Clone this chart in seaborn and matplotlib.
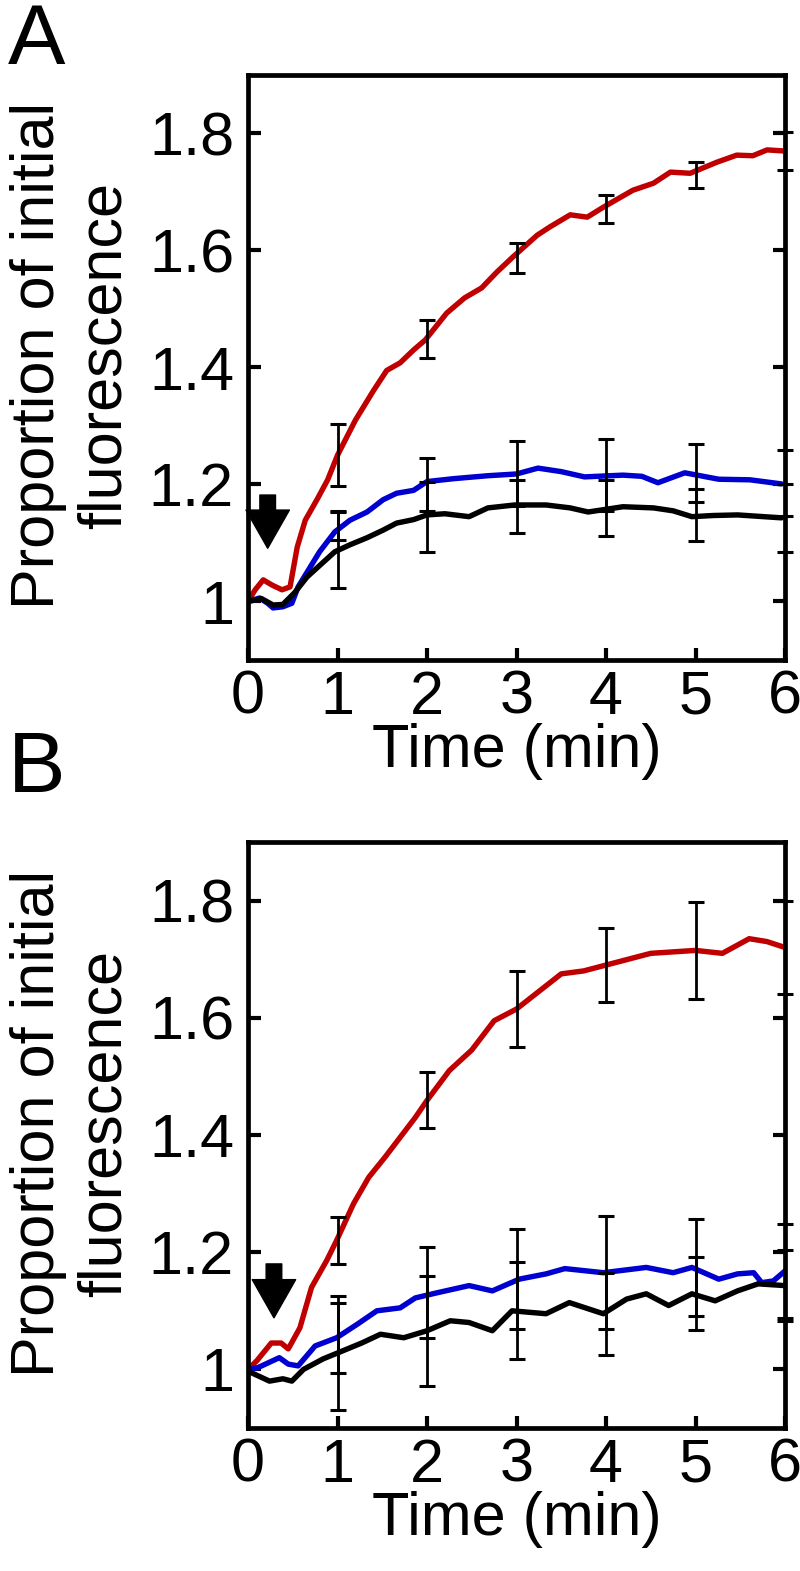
import matplotlib
matplotlib.use("Agg")
import matplotlib.pyplot as plt
import seaborn as sns

# ---------------- data ----------------
# Panel A traces
a_red_t = [0, 0.08, 0.17, 0.27, 0.38, 0.47, 0.55, 0.64, 0.77, 0.89, 1.0, 1.2, 1.4, 1.55, 1.7, 1.85,
           1.98, 2.22, 2.42, 2.61, 2.78, 2.96, 3.23, 3.37, 3.6, 3.79, 3.97, 4.3, 4.53, 4.72, 4.94,
           5.24, 5.46, 5.64, 5.8, 6.0]
a_red_v = [1.0, 1.02, 1.037, 1.028, 1.02, 1.025, 1.093, 1.139, 1.174, 1.208, 1.25, 1.31, 1.36, 1.395,
           1.408, 1.43, 1.447, 1.493, 1.519, 1.536, 1.563, 1.589, 1.626, 1.64, 1.661, 1.657, 1.674,
           1.703, 1.715, 1.734, 1.732, 1.751, 1.763, 1.762, 1.772, 1.77]
a_blue_t = [0, 0.13, 0.22, 0.28, 0.39, 0.49, 0.56, 0.66, 0.8, 0.97, 1.14, 1.33, 1.51, 1.66, 1.85, 2.0,
            2.3, 2.68, 3.0, 3.24, 3.5, 3.76, 4.19, 4.4, 4.58, 4.88, 5.26, 5.61, 5.96]
a_blue_v = [1.0, 1.006, 0.997, 0.989, 0.991, 0.997, 1.025, 1.05, 1.085, 1.119, 1.139, 1.153, 1.174,
            1.185, 1.19, 1.205, 1.21, 1.215, 1.218, 1.228, 1.222, 1.213, 1.216, 1.214, 1.203, 1.22,
            1.209, 1.208, 1.201]
a_black_t = [0, 0.15, 0.28, 0.39, 0.52, 0.66, 0.84, 0.97, 1.14, 1.33, 1.51, 1.66, 1.85, 2.0, 2.2, 2.47,
             2.68, 2.98, 3.33, 3.6, 3.8, 4.19, 4.53, 4.75, 4.96, 5.2, 5.47, 5.96]
a_black_v = [1.0, 1.005, 0.994, 0.995, 1.015, 1.042, 1.067, 1.085, 1.097, 1.109, 1.122, 1.134, 1.14,
             1.148, 1.15, 1.145, 1.16, 1.165, 1.165, 1.16, 1.153, 1.162, 1.16, 1.155, 1.145, 1.147,
             1.148, 1.143]

# Panel B traces
b_red_t = [0, 0.1, 0.26, 0.37, 0.45, 0.58, 0.71, 0.88, 0.99, 1.18, 1.35, 1.53, 1.7, 1.87, 2.0, 2.25,
           2.5, 2.75, 3.0, 3.25, 3.5, 3.75, 4.0, 4.5, 5.0, 5.3, 5.6, 5.8, 6.0]
b_red_v = [1.0, 1.015, 1.045, 1.045, 1.035, 1.071, 1.14, 1.186, 1.22, 1.283, 1.328, 1.362, 1.396, 1.43,
           1.459, 1.51, 1.545, 1.595, 1.615, 1.645, 1.675, 1.68, 1.69, 1.71, 1.715, 1.71, 1.735, 1.73,
           1.72]
b_blue_t = [0, 0.11, 0.35, 0.45, 0.56, 0.75, 0.99, 1.23, 1.44, 1.7, 1.87, 2.12, 2.47, 2.73, 3.03, 3.33,
            3.54, 3.97, 4.45, 4.75, 4.96, 5.26, 5.47, 5.65, 5.74, 5.87, 6.0]
b_blue_v = [1.0, 1.003, 1.02, 1.009, 1.006, 1.04, 1.054, 1.078, 1.1, 1.105, 1.122, 1.131, 1.143, 1.134,
            1.154, 1.163, 1.172, 1.165, 1.174, 1.165, 1.174, 1.154, 1.163, 1.165, 1.148, 1.151, 1.168]
b_black_t = [0, 0.24, 0.39, 0.49, 0.62, 0.84, 1.0, 1.27, 1.48, 1.74, 2.0, 2.26, 2.47, 2.73, 2.95, 3.33,
             3.59, 3.97, 4.23, 4.45, 4.7, 4.96, 5.22, 5.47, 5.7, 6.0]
b_black_v = [0.997, 0.98, 0.984, 0.98, 1.0, 1.018, 1.028, 1.045, 1.06, 1.054, 1.066, 1.083, 1.08, 1.066,
             1.1, 1.095, 1.114, 1.095, 1.12, 1.129, 1.109, 1.129, 1.117, 1.134, 1.146, 1.143]

# error bars, one per minute
err_t = [1, 2, 3, 4, 5, 6]
a_red_mean = [1.25, 1.449, 1.587, 1.671, 1.729, 1.77]
a_red_err = [0.053, 0.033, 0.026, 0.024, 0.022, 0.033]
a_blue_mean = [1.13, 1.2, 1.219, 1.216, 1.22, 1.203]
a_blue_err = [0.025, 0.045, 0.055, 0.062, 0.05, 0.056]
a_black_mean = [1.088, 1.145, 1.162, 1.16, 1.148, 1.143]
a_black_err = [0.065, 0.06, 0.045, 0.048, 0.045, 0.058]

b_red_mean = [1.22, 1.46, 1.615, 1.69, 1.715, 1.72]
b_red_err = [0.04, 0.048, 0.065, 0.063, 0.083, 0.08]
b_blue_mean = [1.054, 1.131, 1.154, 1.165, 1.174, 1.168]
b_blue_err = [0.06, 0.078, 0.085, 0.096, 0.083, 0.08]
b_black_mean = [1.028, 1.066, 1.1, 1.095, 1.129, 1.143]
b_black_err = [0.098, 0.094, 0.083, 0.07, 0.062, 0.06]

# arrow (stimulus) position: time, tail value, tip value
a_arrow = (0.22, 1.182, 1.091)
b_arrow = (0.29, 1.18, 1.088)

x_ticks = [0, 1, 2, 3, 4, 5, 6]
y_ticks = [1.0, 1.2, 1.4, 1.6, 1.8]
y_tick_labels = ["1", "1.2", "1.4", "1.6", "1.8"]

RED = "#c00000"
BLUE = "#0000d0"
BLACK = "#000000"

sns.set_theme(style="ticks")
plt.rcParams["font.family"] = ["Liberation Sans", "DejaVu Sans"]
plt.rcParams["text.color"] = "black"

fig = plt.figure(figsize=(8.0, 15.71), dpi=100)

W, H = 800, 1571
ax_left, ax_right = 248, 785


def make_axes(top_px, bottom_px):
    return fig.add_axes([ax_left / W, 1 - bottom_px / H,
                         (ax_right - ax_left) / W, (bottom_px - top_px) / H])


def draw_panel(ax, traces, errs, arrow):
    for t, v, c in traces:
        sns.lineplot(x=t, y=v, color=c, linewidth=3.9, ax=ax, sort=False,
                     estimator=None, zorder=2)
    for m, e in errs:
        ax.errorbar(err_t, m, yerr=e, fmt="none", ecolor="black", elinewidth=2.0,
                    capsize=6, capthick=2.2, zorder=3, clip_on=False)
    at, a_tail, a_tip = arrow
    ax.annotate("", xy=(at, a_tip), xytext=(at, a_tail),
                arrowprops=dict(arrowstyle="simple,head_width=1.25,head_length=1.1,tail_width=0.45",
                                color="black", shrinkA=0, shrinkB=0, mutation_scale=25))
    ax.set_xlim(0, 6)
    ax.set_ylim(0.9, 1.9)
    ax.set_xticks(x_ticks)
    ax.set_xticklabels([str(x) for x in x_ticks])
    ax.set_yticks(y_ticks)
    ax.set_yticklabels(y_tick_labels)
    ax.tick_params(axis="both", direction="in", length=9, width=3, labelsize=44,
                   colors="black", pad=10)
    ax.tick_params(axis="x", pad=7)
    ax.tick_params(axis="y", right=True, left=True)
    ax.tick_params(axis="x", top=False, bottom=True)
    for s in ax.spines.values():
        s.set_linewidth(3.4)
        s.set_color("black")
    ax.set_xlabel("Time (min)", fontsize=44, labelpad=-3, color="black")
    ax.set_ylabel("Proportion of initial\nfluorescence", fontsize=44, linespacing=1.2,
                  va="center", color="black")
    ax.yaxis.set_label_coords(-0.328, 0.52)
    ax.set_facecolor("white")


ax_a = make_axes(75, 660)
draw_panel(ax_a,
           [(a_red_t, a_red_v, RED), (a_blue_t, a_blue_v, BLUE), (a_black_t, a_black_v, BLACK)],
           [(a_red_mean, a_red_err), (a_blue_mean, a_blue_err), (a_black_mean, a_black_err)],
           a_arrow)

ax_b = make_axes(842, 1428)
draw_panel(ax_b,
           [(b_red_t, b_red_v, RED), (b_blue_t, b_blue_v, BLUE), (b_black_t, b_black_v, BLACK)],
           [(b_red_mean, b_red_err), (b_blue_mean, b_blue_err), (b_black_mean, b_black_err)],
           b_arrow)

fig.text(8 / W, 1 - 2 / H, "A", fontsize=62, ha="left", va="top", color="black")
fig.text(8 / W, 1 - 730 / H, "B", fontsize=62, ha="left", va="top", color="black")

fig.savefig("out.png", dpi=100, facecolor="white")
